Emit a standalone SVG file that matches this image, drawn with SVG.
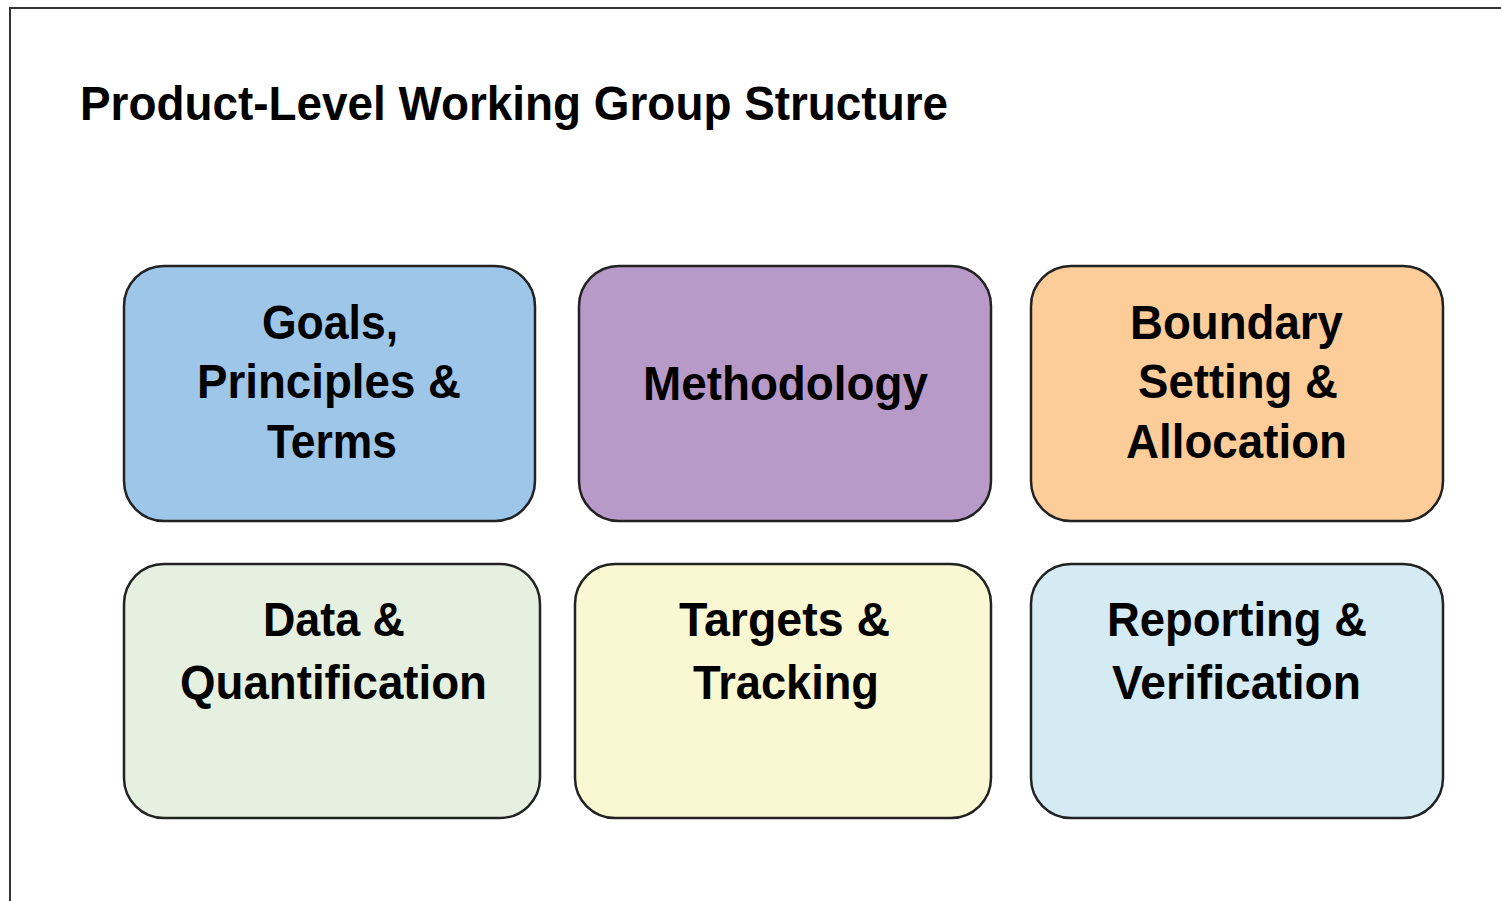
<svg xmlns="http://www.w3.org/2000/svg" width="1501" height="901" viewBox="0 0 1501 901">
<style>
.box{stroke:#222;stroke-width:2.5}
.lbl{font-family:"Liberation Sans",Arial,sans-serif;font-weight:bold;font-size:48px;fill:#000;text-anchor:middle}
.title{font-family:"Liberation Sans",Arial,sans-serif;font-weight:bold;font-size:48px;fill:#000}
</style>
<rect x="0" y="0" width="1501" height="901" fill="#fff"/>
<rect x="10" y="8" width="1500" height="900" fill="none" stroke="#333" stroke-width="2"/>
<text class="title" x="80" y="120" textLength="868" lengthAdjust="spacingAndGlyphs">Product-Level Working Group Structure</text>
<g id="connectors"></g>
<g id="goals">
<rect class="box" x="124" y="266" width="411" height="255" rx="40" fill="#9DC6E9"/>
<text class="lbl" x="330" y="339" textLength="136" lengthAdjust="spacingAndGlyphs">Goals,</text>
<text class="lbl" x="329" y="398" textLength="264" lengthAdjust="spacingAndGlyphs">Principles &amp;</text>
<text class="lbl" x="332" y="458" textLength="130" lengthAdjust="spacingAndGlyphs">Terms</text>
</g>
<g id="methodology">
<rect class="box" x="579" y="266" width="412" height="255" rx="40" fill="#B89AC8"/>
<text class="lbl" x="785.5" y="400" textLength="285" lengthAdjust="spacingAndGlyphs">Methodology</text>
</g>
<g id="boundary">
<rect class="box" x="1031" y="266" width="412" height="255" rx="40" fill="#FCCD98"/>
<text class="lbl" x="1236.5" y="339" textLength="213" lengthAdjust="spacingAndGlyphs">Boundary</text>
<text class="lbl" x="1238" y="398" textLength="200" lengthAdjust="spacingAndGlyphs">Setting &amp;</text>
<text class="lbl" x="1236.5" y="458" textLength="221" lengthAdjust="spacingAndGlyphs">Allocation</text>
</g>
<g id="data">
<rect class="box" x="124" y="564" width="416" height="254" rx="40" fill="#E6F0E0"/>
<text class="lbl" x="334" y="636" textLength="142" lengthAdjust="spacingAndGlyphs">Data &amp;</text>
<text class="lbl" x="333.5" y="699" textLength="307" lengthAdjust="spacingAndGlyphs">Quantification</text>
</g>
<g id="targets">
<rect class="box" x="575" y="564" width="416" height="254" rx="40" fill="#FAF8D2"/>
<text class="lbl" x="784.5" y="636" textLength="211" lengthAdjust="spacingAndGlyphs">Targets &amp;</text>
<text class="lbl" x="786" y="699" textLength="186" lengthAdjust="spacingAndGlyphs">Tracking</text>
</g>
<g id="reporting">
<rect class="box" x="1031" y="564" width="412" height="254" rx="40" fill="#D4EBF3"/>
<text class="lbl" x="1237" y="636" textLength="260" lengthAdjust="spacingAndGlyphs">Reporting &amp;</text>
<text class="lbl" x="1236.5" y="699" textLength="249" lengthAdjust="spacingAndGlyphs">Verification</text>
</g>
</svg>
